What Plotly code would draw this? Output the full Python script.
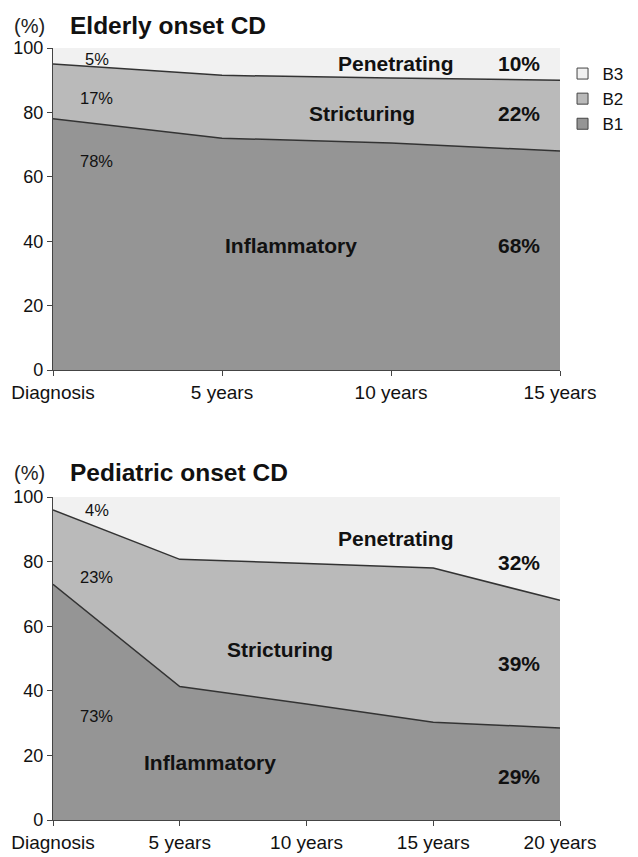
import plotly.graph_objects as go

# ---------------- data ----------------
elderly_cats = ["Diagnosis", "5 years", "10 years", "15 years"]
elderly_b1 = [78, 72, 70.5, 68]
elderly_b2 = [17, 19.5, 20.2, 22]
elderly_b3 = [5, 8.5, 9.3, 10]

pediatric_cats = ["Diagnosis", "5 years", "10 years", "15 years", "20 years"]
pediatric_b1 = [73, 41.3, 35.9, 30.3, 28.5]
pediatric_b2 = [23, 39.4, 43.5, 47.7, 39.5]
pediatric_b3 = [4, 19.3, 20.6, 22, 32]

series_names = ["B1", "B2", "B3"]
y_ticks = [0, 20, 40, 60, 80, 100]

# ---------------- styles ----------------
FONT = "Arial, Liberation Sans, sans-serif"
fills = {"B1": "#959595", "B2": "#bababa", "B3": "#f1f1f1"}
line_w = {"B1": 1.5, "B2": 1.5, "B3": 0}
EDGE = "#333333"

fig = go.Figure()

def add_area(cats, vals, xa, ya, sg):
    for name, v in zip(series_names, vals):
        fig.add_trace(go.Scatter(
            x=cats, y=v, name=name, mode="lines", stackgroup=sg,
            line=dict(color=EDGE, width=line_w[name]),
            fillcolor=fills[name], xaxis=xa, yaxis=ya,
            showlegend=False, hoverinfo="skip"))

add_area(elderly_cats, [elderly_b1, elderly_b2, elderly_b3], "x", "y", "top")
add_area(pediatric_cats, [pediatric_b1, pediatric_b2, pediatric_b3], "x2", "y2", "bot")

# legend entries (square swatches)
for name in ["B3", "B2", "B1"]:
    fig.add_trace(go.Scatter(
        x=[None], y=[None], mode="markers", name=name,
        marker=dict(symbol="square", size=11, color=fills[name],
                    line=dict(color="#444444", width=1)),
        xaxis="x", yaxis="y", showlegend=True))

# ---------------- text labels ----------------
elderly_notes = [
    ("5%", 0.26, 96.6, False), ("17%", 0.26, 84.5, False), ("78%", 0.26, 64.9, False),
    ("Penetrating", 2.03, 95.3, True), ("10%", 2.76, 95.3, True),
    ("Stricturing", 1.83, 79.8, True), ("22%", 2.76, 79.8, True),
    ("Inflammatory", 1.41, 38.7, True), ("68%", 2.76, 38.7, True),
]
pediatric_notes = [
    ("4%", 0.345, 95.9, False), ("23%", 0.34, 75.2, False), ("73%", 0.34, 32.2, False),
    ("Penetrating", 2.71, 87.2, True), ("32%", 3.68, 79.8, True),
    ("Stricturing", 1.79, 52.9, True), ("39%", 3.68, 48.6, True),
    ("Inflammatory", 1.24, 17.9, True), ("29%", 3.68, 13.5, True),
]

annotations = []
for notes, xr, yr in [(elderly_notes, "x", "y"), (pediatric_notes, "x2", "y2")]:
    for t, xv, yv, bold in notes:
        annotations.append(dict(
            text=f"<b>{t}</b>" if bold else t, x=xv, y=yv, xref=xr, yref=yr,
            showarrow=False, xanchor="center", yanchor="middle",
            font=dict(family=FONT, size=21 if bold else 16.5, color="#111111")))

# titles (page pixel positions converted to paper fractions)
for ypx, title in [(26, "Elderly onset CD"), (473, "Pediatric onset CD")]:
    yp = (820 - ypx) / 772
    annotations.append(dict(text="(%)", x=(12 - 53) / 507, y=yp, xref="paper", yref="paper",
                            showarrow=False, xanchor="left", yanchor="middle",
                            font=dict(family=FONT, size=20, color="#222222")))
    annotations.append(dict(text=f"<b>{title}</b>", x=(68 - 53) / 507, y=yp,
                            xref="paper", yref="paper", showarrow=False,
                            xanchor="left", yanchor="middle",
                            font=dict(family=FONT, size=24.5, color="#111111")))

axis_common = dict(showgrid=False, zeroline=False, showline=True, linecolor="#444444",
                   linewidth=1.2, ticks="outside", ticklen=5, tickcolor="#444444",
                   tickwidth=1.2, color="#111111", automargin=False)

# the page body adds an 8px offset, so the figure is 8px smaller with 8px less left/top margin
fig.update_layout(
    width=630, height=849,
    margin=dict(l=45, r=78, t=40, b=37, autoexpand=False),
    paper_bgcolor="white", plot_bgcolor="white",
    font=dict(family=FONT, color="#111111"),
    annotations=annotations,
    showlegend=True,
    legend=dict(x=1.005, y=(820 - 99) / 772, xanchor="left", yanchor="middle",
                traceorder="normal",
                font=dict(family=FONT, size=17, color="#111111"),
                itemwidth=30, bgcolor="rgba(0,0,0,0)", tracegroupgap=0),
    xaxis=dict(domain=[0, 1], anchor="y", type="category",
               range=[0, len(elderly_cats) - 1], tickfont=dict(size=19), **axis_common),
    yaxis=dict(domain=[(820 - 370) / 772, 1], anchor="x", range=[0, 100],
               tickvals=y_ticks, tickfont=dict(size=18), **axis_common),
    xaxis2=dict(domain=[0, 1], anchor="y2", type="category",
                range=[0, len(pediatric_cats) - 1], tickfont=dict(size=19), **axis_common),
    yaxis2=dict(domain=[0, (820 - 497) / 772], anchor="x2", range=[0, 100],
                tickvals=y_ticks, tickfont=dict(size=18), **axis_common),
)

fig.write_html("out.html")
